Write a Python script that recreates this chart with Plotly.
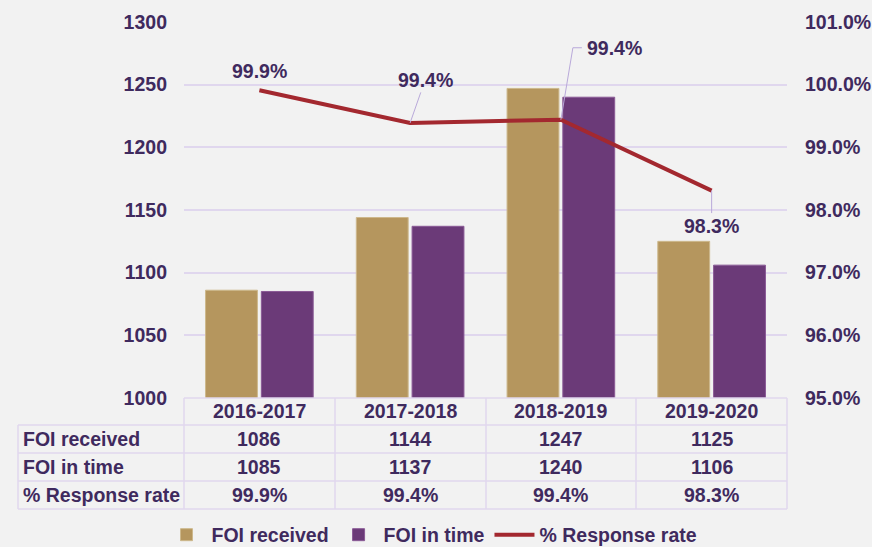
import plotly.graph_objects as go

categories = ["2016-2017", "2017-2018", "2018-2019", "2019-2020"]
foi_received = [1086, 1144, 1247, 1125]
foi_in_time = [1085, 1137, 1240, 1106]
response_rate = [99.91, 99.39, 99.44, 98.31]
rate_labels = ["99.9%", "99.4%", "99.4%", "98.3%"]
row_names = ["FOI received", "FOI in time", "% Response rate"]

TXT = "#3f2a5e"
GRID = "#e0d7ee"
LEAD = "#b9a9da"
FONT = "Liberation Sans, Arial, sans-serif"
W, H = 872, 547
L, R, T, B = 184, 787, 22, 398


def px_x(px):
    return (px - L) / (R - L)


def px_y(py):
    return (B - py) / (B - T)


fig = go.Figure()
fig.add_trace(go.Bar(x=categories, y=foi_received, name="FOI received",
                     marker=dict(color="#b5965e", line=dict(color="#cdb88c", width=1))))
fig.add_trace(go.Bar(x=categories, y=foi_in_time, name="FOI in time",
                     marker=dict(color="#6b3a78", line=dict(color="#8a5a96", width=1))))
fig.add_trace(go.Scatter(x=categories, y=response_rate, name="% Response rate", yaxis="y2",
                         mode="lines", line=dict(color="#a3282f", width=4)))

annotations = []
shapes = []
lab_font = dict(family=FONT, size=19.5, color=TXT, weight="bold")
# line labels
# 2016-2017: plain label above
annotations.append(dict(x=categories[0], y=response_rate[0], xref="x", yref="y2", text=rate_labels[0],
                        showarrow=False, yshift=19, font=lab_font))
# 2017-2018: diagonal leader
annotations.append(dict(x=categories[1], y=response_rate[1], xref="x", yref="y2", text=rate_labels[1],
                        showarrow=True, ax=15, ay=-43, arrowhead=0, arrowwidth=1, arrowcolor=LEAD,
                        font=lab_font))
# 2018-2019: elbow leader
shapes.append(dict(type="path", xref="x", yref="y2", xsizemode="pixel", ysizemode="pixel",
                   xanchor=categories[2], yanchor=response_rate[2],
                   path="M0,0 L12,72 L21,72", line=dict(color=LEAD, width=1)))
annotations.append(dict(x=categories[2], y=response_rate[2], xref="x", yref="y2", text=rate_labels[2],
                        showarrow=False, xshift=54, yshift=72, font=lab_font))
# 2019-2020: vertical leader below
annotations.append(dict(x=categories[3], y=response_rate[3], xref="x", yref="y2", text=rate_labels[3],
                        showarrow=True, ax=0, ay=35, arrowhead=0, arrowwidth=1, arrowcolor=LEAD,
                        font=lab_font))

# table
row_centers = [439, 467, 495]
rows = [[str(v) for v in foi_received], [str(v) for v in foi_in_time], rate_labels]
TF = 19.5
for cat in categories:
    annotations.append(dict(x=cat, y=px_y(411), xref="x", yref="paper", text=cat, showarrow=False,
                            yanchor="middle",
                            font=dict(family=FONT, size=TF, color=TXT, weight="bold")))
for name, yc, vals in zip(row_names, row_centers, rows):
    annotations.append(dict(x=px_x(21), y=px_y(yc), xref="paper", yref="paper", text=name,
                            showarrow=False, xanchor="left", yanchor="middle",
                            font=dict(family=FONT, size=TF, color=TXT, weight="bold")))
    for cat, v in zip(categories, vals):
        annotations.append(dict(x=cat, y=px_y(yc), xref="x", yref="paper", text=v, showarrow=False,
                                yanchor="middle",
                                font=dict(family=FONT, size=TF, color=TXT, weight="bold")))

lw = 1.5
# horizontal table lines
shapes.append(dict(type="line", xref="paper", yref="paper", x0=px_x(184), x1=px_x(787),
                   y0=px_y(398), y1=px_y(398), line=dict(color=GRID, width=lw)))
for yy in [425, 453, 481, 509]:
    shapes.append(dict(type="line", xref="paper", yref="paper", x0=px_x(18), x1=px_x(787),
                       y0=px_y(yy), y1=px_y(yy), line=dict(color=GRID, width=lw)))
# vertical table lines
shapes.append(dict(type="line", xref="paper", yref="paper", x0=px_x(18), x1=px_x(18),
                   y0=px_y(425), y1=px_y(509), line=dict(color=GRID, width=lw)))
for xx in [184, 335, 486, 636, 787]:
    shapes.append(dict(type="line", xref="paper", yref="paper", x0=px_x(xx), x1=px_x(xx),
                       y0=px_y(398), y1=px_y(509), line=dict(color=GRID, width=lw)))

fig.update_layout(
    width=W, height=H,
    margin=dict(l=L, r=W - R, t=T, b=H - B, autoexpand=False),
    paper_bgcolor="#f2f2f2", plot_bgcolor="#f2f2f2",
    barmode="group", bargap=0.26, bargroupgap=0.07,
    font=dict(family=FONT, color=TXT, size=19),
    xaxis=dict(showticklabels=False, showgrid=False, zeroline=False, showline=False,
               categoryorder="array", categoryarray=categories),
    yaxis=dict(range=[1000, 1300], dtick=50, tick0=1000, showgrid=True, gridcolor=GRID, gridwidth=1.5,
               zeroline=False, showline=False, ticklabelstandoff=16,
               tickfont=dict(family=FONT, size=19.5, color=TXT, weight="bold")),
    yaxis2=dict(range=[95, 101], dtick=1, tick0=95, overlaying="y", side="right", showgrid=False,
                zeroline=False, showline=False, tickformat=".1f", ticksuffix="%", ticklabelstandoff=17,
                tickfont=dict(family=FONT, size=19.5, color=TXT, weight="bold")),
    showlegend=True,
    legend=dict(orientation="h", x=px_x(432), xanchor="center", y=px_y(535), yanchor="middle",
                font=dict(family=FONT, size=19.5, color=TXT, weight="bold"), bgcolor="rgba(0,0,0,0)",
                itemwidth=40, traceorder="normal"),
    annotations=annotations,
    shapes=shapes,
)

fig.write_html(
    "out.html",
    config={"displayModeBar": False},
    post_script="document.body.style.margin='0';document.body.style.background='#f2f2f2';"
                "document.documentElement.style.overflow='hidden';",
)
